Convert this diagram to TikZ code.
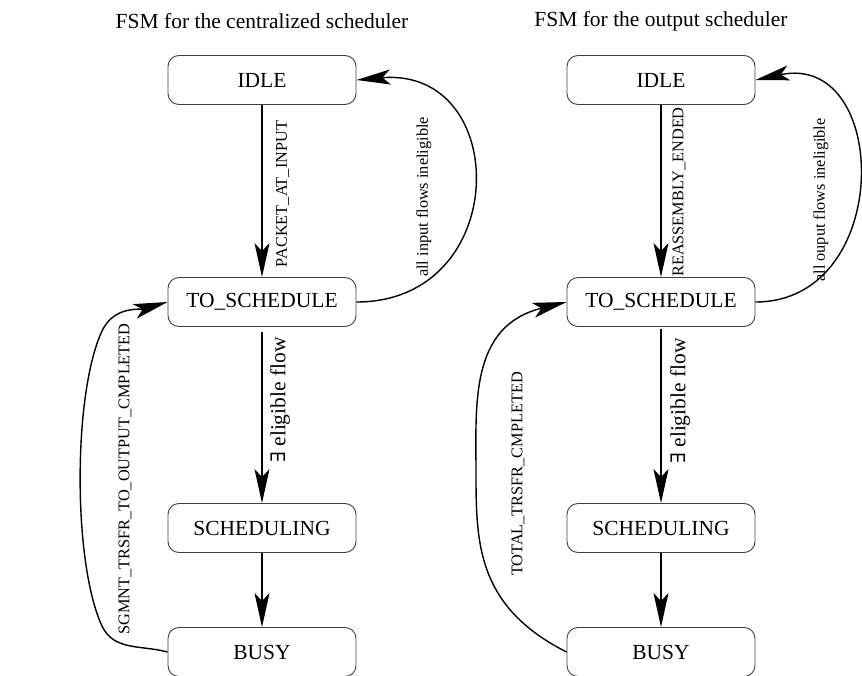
\documentclass[tikz,border=0pt]{standalone}
\usepackage{fontspec}
\setmainfont{Liberation Serif}
\newfontfamily\exfont{DejaVu Serif}
\usetikzlibrary{arrows.meta}

\begin{document}
\begin{tikzpicture}[x=1pt,y=-1pt,
  state/.style={draw=black!75, line width=0.9pt, rounded corners=11pt,
    minimum width=188pt, minimum height=49pt, inner sep=0pt,
    font=\fontsize{21.5}{24}\selectfont},
  trans/.style={line width=1.4pt, -{Stealth[length=34pt,width=15pt,inset=8pt]}},
  lab/.style={font=\fontsize{16.3}{18}\selectfont, rotate=90, inner sep=0pt},
  biglab/.style={font=\fontsize{21.5}{24}\selectfont, rotate=90, inner sep=0pt},
  title/.style={font=\fontsize{21.5}{24}\selectfont, inner sep=0pt}]
\useasboundingbox (0,0) rectangle (862,676);

% ---- centralized scheduler ----
\node[title] (titleA) at (262,21) {FSM for the centralized scheduler};
\node[state] (idleA)  at (262,80)  {IDLE};
\node[state] (toA)    at (262,302) {TO\_SCHEDULE};
\node[state] (schA)   at (262,528) {SCHEDULING};
\node[state] (busyA)  at (262,652) {BUSY};

\draw[trans] (idleA) -- (toA);
\draw[trans, shorten <=5pt] (toA) -- (schA);
\draw[trans] (schA) -- (busyA);
\draw[trans] (toA.east) to[out=0,in=5,looseness=1.8] (idleA.east);

% return loop BUSY -> TO_SCHEDULE, bulging to the left
\coordinate (qA) at (102,626);
\coordinate (rA) at (102,331);
\draw[trans] (busyA.west) to[out=165,in=-65] (qA)
  to[out=115,in=-115,looseness=0.6] (rA) to[out=65,in=196] (toA.west);

\node[lab]    (lpacket) at (282.5,194) {PACKET\_AT\_INPUT};
\node[lab]    (linelA)  at (424,197)   {all input flows ineligible};
\node[biglab] (leligA)  at (280,400)   {{\exfont\fontsize{20}{24}\selectfont ∃} eligible flow};
\node[lab]    (lsgmnt)  at (125,479)   {SGMNT\_TRSFR\_TO\_OUTPUT\_CMPLETED};

% ---- output scheduler ----
\node[title] (titleB) at (661,21) {FSM for the output scheduler};
\node[state] (idleB)  at (661,80)  {IDLE};
\node[state] (toB)    at (661,302) {TO\_SCHEDULE};
\node[state] (schB)   at (661,528) {SCHEDULING};
\node[state] (busyB)  at (661,652) {BUSY};

\draw[trans] (idleB) -- (toB);
\draw[trans, shorten <=2pt] (toB) -- (schB);
\draw[trans] (schB) -- (busyB);
\draw[trans] (toB.east) to[out=0,in=12,looseness=1.6] (idleB.east);

\coordinate (mB) at (476,474);
\draw[trans] (busyB.west) .. controls +(-89,-45) and +(0,70) .. (mB)
  .. controls +(0,-70) and +(-97,24) .. (toB.west);

\node[lab]    (lreasm) at (679,192) {REASSEMBLY\_ENDED};
\node[lab]    (linelB) at (821,200) {all ouput flows ineligible};
\node[biglab] (leligB) at (680,401) {{\exfont\fontsize{20}{24}\selectfont ∃} eligible flow};
\node[lab]    (ltotal) at (518,474) {TOTAL\_TRSFR\_CMPLETED};
\end{tikzpicture}
\end{document}
